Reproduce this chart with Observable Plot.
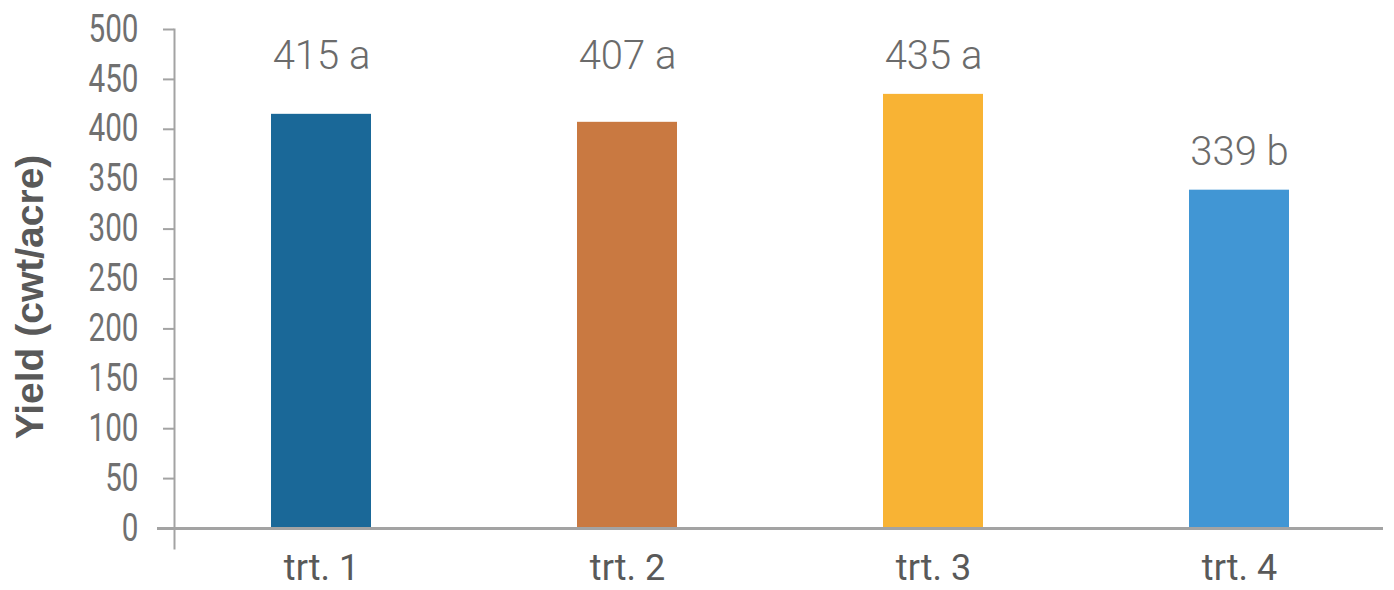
<!DOCTYPE html>
<html><head><meta charset="utf-8">
<script src="https://cdn.jsdelivr.net/npm/d3@7"></script>
<script src="https://cdn.jsdelivr.net/npm/@observablehq/plot@0.6"></script>
<style>body{margin:0;background:#fff}</style>
</head><body><div id="chart"></div>
<script>
const categories = ["trt. 1", "trt. 2", "trt. 3", "trt. 4"];
const yields = [415, 407, 435, 339];
const groups = ["a", "a", "a", "b"];
const colors = ["#1a6898", "#c97941", "#f8b334", "#4196d4"];
const yTicks = [0, 50, 100, 150, 200, 250, 300, 350, 400, 450, 500];

const data = categories.map((c, i) => ({cat: c, y: yields[i], g: groups[i]}));
// labels of the same significance group share a height (that group's tallest bar)
const groupMax = d3.rollup(data, v => d3.max(v, d => d.y), d => d.g);
const labels = data.map(d => ({...d, ly: groupMax.get(d.g), text: `${d.y} ${d.g}`}));

const chart = Plot.plot({
  width: 1394, height: 590,
  marginLeft: 174, marginRight: 9, marginTop: 29, marginBottom: 62,
  x: {domain: categories, paddingInner: 0.674, paddingOuter: 0.313, label: null},
  y: {domain: [0, 500], ticks: yTicks, label: null},
  color: {domain: categories, range: colors},
  marks: [
    Plot.barY(data, {x: "cat", y: "y", fill: "cat"}),
    Plot.ruleY([0], {stroke: "#a3a3a3", strokeWidth: 3, insetLeft: -17, insetRight: 2}),
    Plot.frame({anchor: "left", stroke: "#a3a3a3", strokeWidth: 2, insetBottom: -20}),
    Plot.axisY({ticks: yTicks, tickSize: 11, tickPadding: 25, stroke: "#a3a3a3", strokeWidth: 2,
      fill: "#707070", fontSize: 38, fontFamily: "Roboto, sans-serif", label: null,
      ariaLabel: "y-axis"}),
    Plot.axisX({tickSize: 0, tickPadding: 26, fill: "#595959", fontSize: 36, fontWeight: 400,
      fontFamily: "Roboto, sans-serif", label: null}),
    Plot.text(labels, {x: "cat", y: "ly", text: "text", dy: -38, fill: "#6b6b6b", fontSize: 40,
      fontWeight: 300, fontFamily: "Roboto, sans-serif"}),
    Plot.text(["Yield (cwt/acre)"], {frameAnchor: "left", textAnchor: "middle", dx: -144, dy: 18, rotate: -90,
      fill: "#595959", fontSize: 39, fontWeight: "bold", fontFamily: "'Liberation Sans', Arial, sans-serif"})
  ]
});
// condense the y tick labels horizontally, like the narrow face of the original
d3.select(chart).selectAll('g[aria-label="y-axis tick label"] text').each(function() {
  const t = this.getAttribute("transform") || "";
  this.setAttribute("transform", t + " scale(0.78,1)");
});
document.getElementById("chart").appendChild(chart);
</script>
</body></html>
